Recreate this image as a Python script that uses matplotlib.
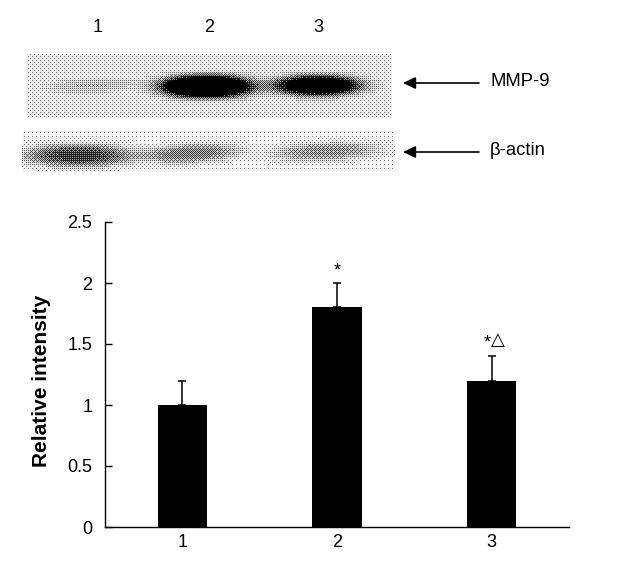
import numpy as np
import matplotlib
matplotlib.use("Agg")
import matplotlib.pyplot as plt
from matplotlib.ticker import FixedLocator, FixedFormatter

lanes = ["1", "2", "3"]
intensity = [1.0, 1.8, 1.2]
errors = [0.2, 0.2, 0.2]
marks = ["*", "*", "*△"]
y_ticks = [0, 0.5, 1, 1.5, 2, 2.5]
y_labels = ["0", "0.5", "1", "1.5", "2", "2.5"]

# band darkness
mmp9_dark = [0.16, 1.7, 1.3]
actin_dark = [0.68, 0.45, 0.36]

W, H = 637, 563
plt.rcParams["font.family"] = ["Liberation Sans", "DejaVu Sans"]


def px_axes(fig, x0, y0, x1, y1):
    return fig.add_axes([x0 / W, 1 - y1 / H, (x1 - x0) / W, (y1 - y0) / H])


def blot(x0, y0, x1, y1, bands, base):
    # bands are (center x, center y, half width, half height, tilt, darkness) in pixels
    xx, yy = np.meshgrid(np.arange(x0, x1), np.arange(y0, y1))
    dark = np.full(xx.shape, base, dtype=float)
    for cx, cy, hw, hh, tilt, d in bands:
        u = (xx - cx) / hw
        v = (yy - cy - tilt * (xx - cx)) / hh
        dark += d * np.exp(-(u ** 2 + v ** 2) ** 1.5)
    # fine halftone, like the scanned print
    bayer = np.array([[0, 8, 2, 10], [12, 4, 14, 6], [3, 11, 1, 9], [15, 7, 13, 5]]) / 16 + 1 / 32
    screen = bayer[yy % 4, xx % 4]
    dots = (dark > screen).astype(float)
    grey = 1 - (0.5 * dots + 0.5 * np.clip(dark, 0, 1))
    return grey


fig = plt.figure(figsize=(W / 100, H / 100), dpi=100, facecolor="white")

# lane numbers
for lane, x in zip(lanes, [98, 209, 318]):
    fig.text(x / W, 1 - 27 / H, lane, ha="center", va="center", fontsize=13)

# MMP-9 blot
top_bands = [(x, y, hw, hh, t, d) for (x, y, hw, hh, t), d in zip(
    [(92, 85, 44, 7, -0.04), (206, 86, 45, 11, 0.0), (317, 85, 43, 10, 0.0)], mmp9_dark)]
ax = px_axes(fig, 27, 54, 392, 118)
ax.imshow(blot(27, 54, 392, 118, top_bands, 0.13), cmap="gray", vmin=0, vmax=1, aspect="auto",
          interpolation="nearest")
ax.axis("off")

# beta-actin blot
low_bands = [(x, y, hw, hh, t, d) for (x, y, hw, hh, t), d in zip(
    [(78, 155, 52, 11, 0.0), (190, 153, 48, 9, -0.05), (325, 151, 52, 9, -0.04)], actin_dark)]
ax = px_axes(fig, 22, 131, 395, 172)
ax.imshow(blot(22, 131, 395, 172, low_bands, 0.08), cmap="gray", vmin=0, vmax=1, aspect="auto",
          interpolation="nearest")
ax.axis("off")

# overlay axes in pixel coordinates for the arrows and names
over = fig.add_axes([0, 0, 1, 1])
over.set_xlim(0, W)
over.set_ylim(H, 0)
over.axis("off")
over.patch.set_alpha(0)
for y, name in [(83, "MMP-9"), (152, "β-actin")]:
    over.annotate("", xy=(403, y), xytext=(479, y),
                  arrowprops=dict(arrowstyle="-|>,head_length=0.75,head_width=0.36", color="black",
                                  lw=1.2, shrinkA=0, shrinkB=0))
    over.text(490, y - 1.5, name, ha="left", va="center", fontsize=13.3)

# bar chart
ax = px_axes(fig, 105, 222, 569, 527)
x = np.arange(1, len(lanes) + 1)
ax.bar(x, intensity, width=0.32, color="black")
ax.errorbar(x, intensity, yerr=[np.zeros(len(errors)), errors], fmt="none", ecolor="black",
            elinewidth=1.1, capsize=3, capthick=1.1)
ax.set_xlim(0.5, 3.5)
ax.set_ylim(0, 2.5)
ax.yaxis.set_major_locator(FixedLocator(y_ticks))
ax.yaxis.set_major_formatter(FixedFormatter(y_labels))
ax.set_xticks(x)
ax.set_xticklabels(lanes)
ax.tick_params(axis="x", length=0, labelsize=13, pad=5)
ax.tick_params(axis="y", direction="in", length=5, width=1, labelsize=13, pad=9)
ax.spines["top"].set_visible(False)
ax.spines["right"].set_visible(False)
ax.spines["left"].set_linewidth(1)
ax.spines["bottom"].set_linewidth(1)
ax.set_ylabel("Relative intensity", fontsize=15, fontweight="bold", labelpad=12, y=0.478)

ax.text(x[1], intensity[1] + errors[1] + 0.1, marks[1], ha="center", va="center", fontsize=13)
ax.text(x[2] - 0.03, intensity[2] + errors[2] + 0.11, marks[2][0], ha="center", va="center", fontsize=13)
ax.text(x[2] + 0.04, intensity[2] + errors[2] + 0.13, marks[2][1], ha="center", va="center", fontsize=13)

plt.savefig("out.png", dpi=100)
plt.close()
